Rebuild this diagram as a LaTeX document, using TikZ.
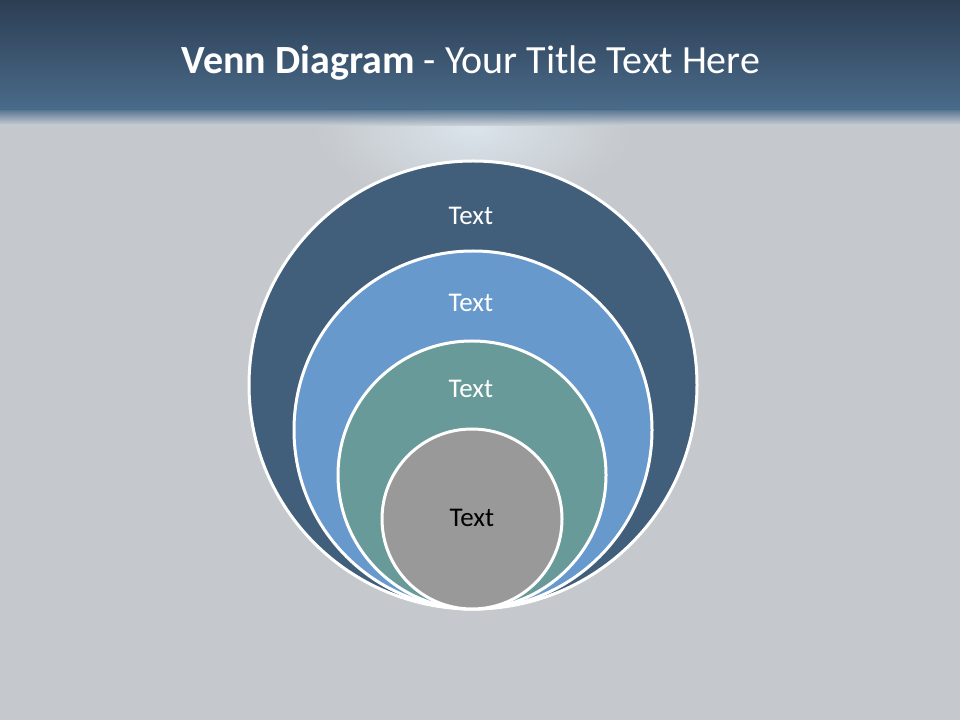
\documentclass[tikz,border=0pt]{standalone}
\usepackage{fontspec}
\setmainfont{Carlito}
\usepackage{tikz}
\usetikzlibrary{positioning}
\definecolor{barTop}    {RGB}{ 44,  62,  84}
\definecolor{barBottom} {RGB}{ 74, 107, 138}
\definecolor{bgGray}    {RGB}{197, 200, 204}
\definecolor{glowBlue}  {RGB}{218, 228, 235}
\definecolor{ringOne}   {RGB}{ 65,  94, 122}
\definecolor{ringTwo}   {RGB}{103, 153, 204}
\definecolor{ringThree} {RGB}{103, 154, 152}
\definecolor{ringFour}  {RGB}{153, 153, 153}

\begin{document}
\begin{tikzpicture}[x=1pt,y=1pt,
          ring/.style={circle,draw=white,line width=3pt,inner sep=0pt,outer sep=0pt},
          lbl/.style={font=\fontsize{27}{32}\selectfont,text=white},
        ]
        \useasboundingbox (0,0) rectangle (960,720);
        % BACKGROUND
        \fill[bgGray] (0,0) rectangle (960,720);
        \shade[inner color=glowBlue,outer color=bgGray] (473,592) ellipse (160 and 80);
        \shade[top color=barTop,bottom color=barBottom] (0,720) rectangle (960,610);
        \shade[top color=barBottom,bottom color=bgGray!60!glowBlue,opacity=0.9] (0,610.5) rectangle (960,594);

        % TITLE
        \node[anchor=base,text=white,font=\fontsize{40}{48}\selectfont](title) at (471,646)
          {\textbf{Venn Diagram} - Your Title Text Here};

        % RINGS
        \node[ring,fill=ringOne,minimum size=448pt](c1)   at (473,335){};
        \node[ring,fill=ringTwo,minimum size=358pt](c2)   at (473,290){};
        \node[ring,fill=ringThree,minimum size=268pt](c3) at (472,245){};
        \node[ring,fill=ringFour,minimum size=180pt](c4)  at (472,201){};

        \node[lbl](t1) at (471,504){Text};
        \node[lbl](t2) at (471,417){Text};
        \node[lbl](t3) at (471,331){Text};
        \node[lbl,text=black](t4) at (472,202){Text};
      \end{tikzpicture}
\end{document}
